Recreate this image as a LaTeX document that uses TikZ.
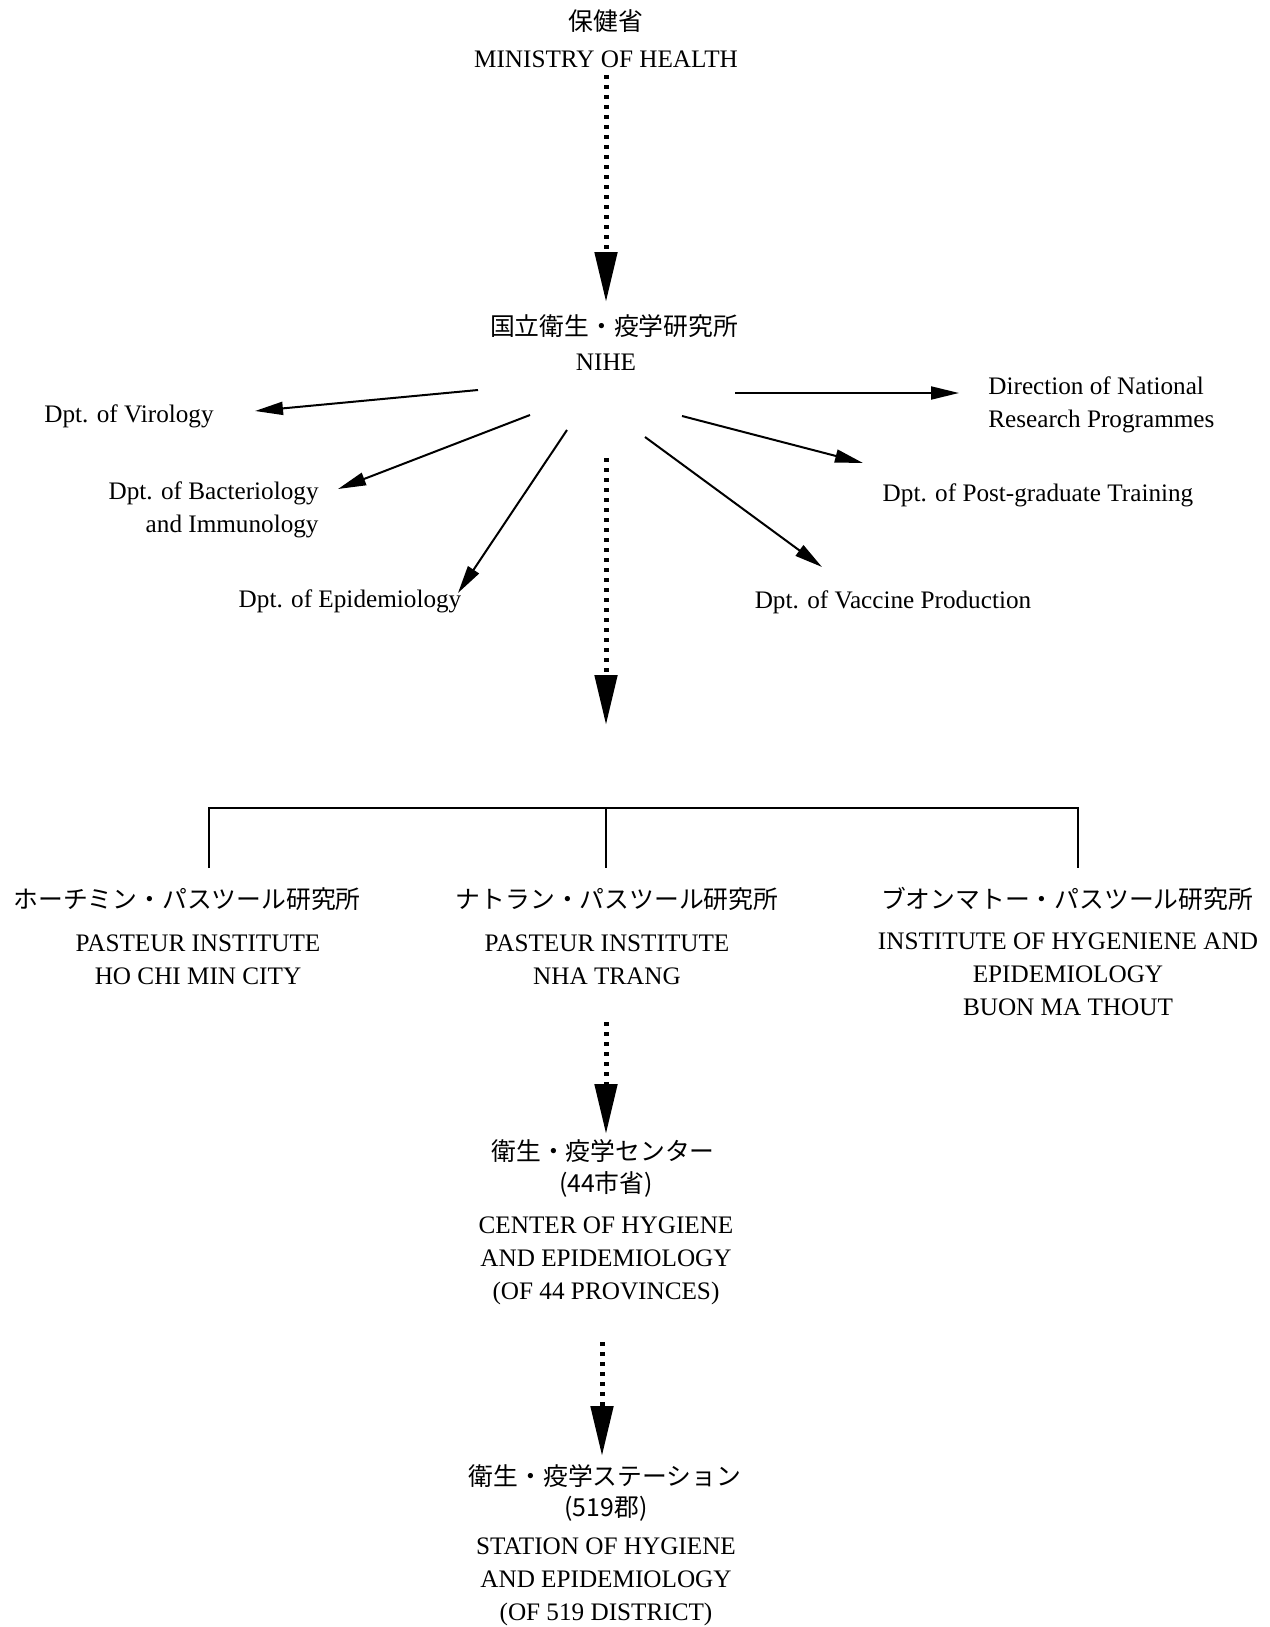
\documentclass[tikz,border=0pt]{standalone}
\usepackage{fontspec}
\setmainfont{Liberation Serif}
\newfontfamily\jp{Noto Sans CJK JP}
\usetikzlibrary{arrows.meta}
\begin{document}
\begin{tikzpicture}[x=0.5pt,y=-0.5pt,
  lbl/.style={inner sep=0pt, font=\fontsize{12.6}{16.5}\selectfont, align=center},
  jlbl/.style={inner sep=0pt, font=\fontsize{12.4}{16}\selectfont\jp},
  solidarr/.style={line width=1pt, -{Triangle[length=14pt,width=6.5pt]}},
  dotarr/.style={line width=2.5pt, dash pattern=on 2.2pt off 2.8pt, -{Triangle[length=25pt,width=11pt]}},
  link/.style={line width=1pt}]
\useasboundingbox (0,0) rectangle (1269,1627);

% top
\node[jlbl] (mhjp) at (606,21) {保健省};
\node[lbl] (mh) at (606,59) {MINISTRY OF HEALTH};
\node[jlbl] (nihejp) at (614,326) {国立衛生・疫学研究所};
\node[lbl] (nihe) at (606,362) {NIHE};

% departments
\node[lbl, anchor=west] (vir) at (44,416) {Dpt. of Virology};
\node[lbl, anchor=east, align=right] (bact) at (319,510) {Dpt. of Bacteriology\\and Immunology};
\node[lbl] (epi) at (350,601) {Dpt. of Epidemiology};
\node[lbl, anchor=west, align=left] (dir) at (988,405) {Direction of National\\Research Programmes};
\node[lbl] (pg) at (1038,495) {Dpt. of Post-graduate Training};
\node[lbl] (vac) at (893,602) {Dpt. of Vaccine Production};

% institutes
\node[jlbl] (hcmjp) at (187,899) {ホーチミン・パスツール研究所};
\node[jlbl] (ntjp) at (617,899) {ナトラン・パスツール研究所};
\node[jlbl] (bmtjp) at (1067,899) {ブオンマトー・パスツール研究所};
\node[lbl] (hcm) at (198,960) {PASTEUR INSTITUTE\\HO CHI MIN CITY};
\node[lbl] (nt) at (607,960) {PASTEUR INSTITUTE\\NHA TRANG};
\node[lbl] (bmt) at (1068,974) {INSTITUTE OF HYGENIENE AND\\EPIDEMIOLOGY\\BUON MA THOUT};

% centers
\node[jlbl] (cjp) at (603,1151) {衛生・疫学センター};
\node[jlbl] (cjp2) at (606,1184) {(44市省)};
\node[lbl] (cen) at (606,1261) {CENTER OF HYGIENE\\AND EPIDEMIOLOGY\\(OF 44 PROVINCES)};

% stations
\node[jlbl] (sjp) at (605,1476) {衛生・疫学ステーション};
\node[jlbl] (sjp2) at (606,1509) {(519郡)};
\node[lbl] (sta) at (606,1582) {STATION OF HYGIENE\\AND EPIDEMIOLOGY\\(OF 519 DISTRICT)};

% coordinates for arrows
\coordinate (d1s) at (606,75);   \coordinate (d1t) at (606,302);
\coordinate (d2s) at (606,458);  \coordinate (d2t) at (606,725);
\coordinate (d3s) at (606,1022); \coordinate (d3t) at (606,1134);
\coordinate (d4s) at (602,1342); \coordinate (d4t) at (602,1456);

\coordinate (virs) at (478,390);  \coordinate (virt) at (255,411);
\coordinate (bacs) at (530,415);  \coordinate (bact2) at (338,489);
\coordinate (epis) at (567,430);  \coordinate (epit) at (458,593);
\coordinate (dirs) at (735,393);  \coordinate (dirt) at (959,393);
\coordinate (pgs) at (682,416);   \coordinate (pgt) at (863,463);
\coordinate (vacs) at (645,437);  \coordinate (vact) at (822,567);

\draw[dotarr] (d1s) -- (d1t);
\draw[dotarr] (d2s) -- (d2t);
\draw[dotarr] (d3s) -- (d3t);
\draw[dotarr] (d4s) -- (d4t);

\draw[solidarr] (virs) -- (virt);
\draw[solidarr] (bacs) -- (bact2);
\draw[solidarr] (epis) -- (epit);
\draw[solidarr] (dirs) -- (dirt);
\draw[solidarr] (pgs) -- (pgt);
\draw[solidarr] (vacs) -- (vact);

% tree bar
\coordinate (barl) at (209,808);
\coordinate (barm) at (606,808);
\coordinate (barr) at (1078,808);
\coordinate (hcmtop) at (209,868);
\coordinate (nttop) at (606,868);
\coordinate (bmttop) at (1078,868);
\draw[link] (hcmtop) -- (barl) -- (barr) -- (bmttop);
\draw[link] (barm) -- (nttop);
\end{tikzpicture}
\end{document}
